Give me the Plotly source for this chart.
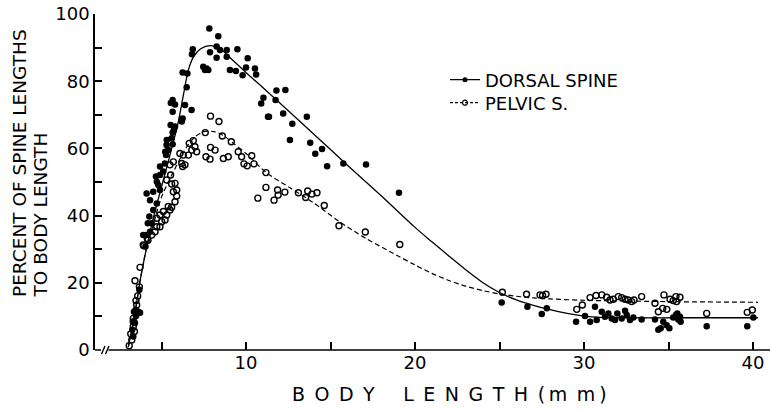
import plotly.graph_objects as go

# ---------------- data ----------------
DORSAL_X = [3.33, 3.27, 3.43, 3.49, 3.37, 3.63, 3.73, 3.47, 3.69, 3.55, 3.30,
            4.05, 4.08, 4.32, 4.42, 4.28, 4.51, 4.72, 4.32, 4.12, 4.51, 4.91, 4.81, 4.72, 4.67,
            4.91, 5.10, 4.91, 5.20, 5.27, 5.22, 5.40, 5.30, 5.60, 5.66, 5.80, 6.20, 3.92, 4.19,
            7.83, 8.36, 6.85, 6.80, 8.26, 8.46, 8.86, 9.49, 7.87, 8.26, 8.86, 10.10, 7.47, 7.67,
            7.77, 7.57, 9.05, 9.40, 9.80, 10.00, 10.53, 10.60, 6.25, 6.53, 6.49, 5.66, 5.80, 5.55,
            6.39, 6.78, 5.66, 6.25, 6.18, 5.54, 5.74, 5.31, 5.66, 11.03, 10.90, 11.30,
            11.80, 12.33, 11.75, 11.36, 12.20, 12.74, 13.60, 12.60, 13.80, 14.50, 14.10, 14.80,
            15.76, 17.10, 19.05,
            25.13, 26.65, 27.50, 27.80, 29.53, 30.06, 30.36, 30.65, 30.75, 31.05, 31.24, 31.44,
            31.64, 31.83, 31.97, 32.23, 32.43, 32.53, 32.72, 32.92, 33.41, 34.20, 34.40, 34.54,
            34.69, 34.89, 35.05, 35.28, 35.44, 35.58, 35.52, 35.68, 35.72, 37.26, 39.66, 40.02]
DORSAL_Y = [4.0, 6.0, 8.0, 10.1, 11.4, 11.4, 11.1, 11.9, 17.9, 10.8, 8.5,
            30.8, 34.2, 35.2, 37.7, 39.7, 41.7, 43.6, 44.6, 46.6, 47.1, 47.6, 49.1, 50.1, 51.6,
            52.1, 53.1, 54.6, 55.5, 58.0, 59.0, 59.5, 61.0, 63.0, 64.7, 66.5, 68.0, 34.2, 37.7,
            95.7, 93.4, 89.5, 88.0, 90.3, 89.3, 89.3, 89.5, 88.6, 87.0, 87.3, 86.8, 84.3, 83.8,
            83.3, 83.3, 83.3, 83.0, 81.8, 84.1, 83.8, 82.0, 82.6, 82.3, 78.2, 74.4, 73.1, 73.5,
            72.9, 71.4, 70.9, 68.9, 68.2, 67.0, 65.5, 62.5, 61.2, 75.1, 73.4, 69.4,
            77.2, 77.4, 74.4, 69.4, 70.4, 67.3, 69.4, 62.5, 61.7, 59.8, 58.4, 54.7,
            55.5, 55.2, 46.8,
            14.1, 12.9, 10.7, 12.4, 8.4, 10.1, 8.4, 12.9, 8.9, 11.4, 9.9, 10.9,
            9.4, 8.9, 10.9, 9.4, 11.7, 10.4, 8.9, 9.7, 9.1, 9.1, 6.0, 6.5,
            8.4, 7.4, 6.5, 9.7, 10.4, 9.1, 10.9, 9.9, 8.4, 7.1, 7.1, 9.7]

PELVIC_X = [3.09, 3.24, 3.18, 3.33, 3.40, 3.33, 3.53, 3.49, 3.59, 3.69, 3.43, 3.73, 3.95, 4.20,
            3.92, 4.16, 4.42, 4.62, 4.72, 4.91, 5.01, 4.72, 5.21, 4.91, 5.31, 5.11, 5.50, 5.40,
            5.60, 5.80, 5.90, 5.70, 5.90, 5.60, 5.80, 5.31, 5.54, 6.25, 6.39, 6.20, 5.50, 5.70,
            6.09, 6.29,
            7.90, 8.40, 7.59, 8.60, 9.13, 6.88, 6.64, 6.98, 6.79, 7.08, 6.59, 7.63, 7.87, 8.17,
            7.90, 8.66, 8.95, 9.54, 9.74, 10.34, 9.88, 10.07, 10.47, 11.18,
            11.18, 10.70, 11.66, 11.87, 11.90, 12.30, 13.10, 13.53, 13.65, 13.90, 14.20, 14.63,
            15.50, 17.06, 19.10,
            25.17, 26.60, 27.40, 27.75, 27.55, 29.57, 29.90, 30.36, 30.71, 31.05, 31.34, 31.54,
            31.73, 32.03, 32.23, 32.43, 32.62, 32.82, 32.96, 33.41, 34.20, 34.73, 35.09, 35.28,
            35.44, 35.68, 35.48, 34.40, 34.66, 34.90, 37.26, 39.66, 39.96]
PELVIC_Y = [1.3, 3.0, 4.8, 7.0, 5.5, 9.4, 13.4, 14.7, 16.1, 18.8, 20.6, 24.6, 31.0, 32.7,
            31.3, 33.2, 34.2, 35.2, 36.7, 36.7, 38.2, 39.2, 38.7, 40.2, 40.2, 41.2, 41.7, 42.7,
            42.5, 44.1, 45.8, 47.1, 47.6, 49.4, 49.6, 50.6, 52.1, 54.6, 55.1, 55.5, 55.1, 56.0,
            58.5, 58.0,
            69.6, 68.0, 64.7, 63.7, 62.0, 62.3, 61.5, 60.5, 59.5, 59.0, 58.0, 57.5, 56.8, 59.5,
            60.3, 57.0, 57.5, 59.0, 57.5, 57.8, 55.4, 54.8, 55.4, 52.8,
            48.4, 45.2, 44.6, 47.6, 46.1, 47.0, 46.8, 45.4, 47.3, 46.4, 46.8, 43.0,
            37.0, 35.1, 31.4,
            17.2, 16.6, 16.4, 16.6, 16.2, 12.1, 13.4, 15.6, 16.2, 16.4, 15.7, 14.9,
            15.1, 15.9, 15.6, 15.1, 14.9, 14.4, 14.9, 15.9, 13.9, 16.4, 15.1, 14.7,
            15.9, 15.7, 14.4, 11.4, 12.4, 12.1, 10.9, 11.2, 11.9]

DORSAL_CURVE_X = [3.04, 3.4, 3.73, 4.1, 4.5, 5.0, 5.5, 6.0, 6.3, 6.6, 6.9, 7.3, 7.9, 8.5, 9.0,
                  10.0, 10.8, 12.0, 14.0, 16.0, 18.0, 20.0, 21.0, 22.0, 23.0, 24.0, 25.0, 26.0,
                  27.0, 28.0, 29.0, 30.0, 31.0, 32.0, 36.0, 40.3]
DORSAL_CURVE_Y = [1.0, 10.0, 20.5, 30.0, 39.0, 48.5, 58.0, 68.0, 76.0, 83.5, 87.3, 89.6, 90.6,
                  89.5, 87.3, 82.6, 79.0, 73.5, 64.3, 55.0, 45.9, 36.5, 32.2, 28.0, 23.9, 20.1,
                  17.1, 14.9, 13.3, 12.0, 10.9, 10.1, 9.7, 9.6, 9.6, 9.6]
PELVIC_CURVE_X = [3.04, 3.4, 3.73, 4.1, 4.5, 5.0, 5.6, 6.5, 7.0, 7.5, 8.1, 8.6, 9.25, 10.0,
                  11.2, 12.6, 14.0, 15.5, 17.1, 19.0, 20.0, 21.0, 22.0, 23.0, 24.0, 25.0, 26.0,
                  27.0, 28.0, 30.0, 35.0, 40.3]
PELVIC_CURVE_Y = [1.0, 10.0, 20.5, 30.0, 37.0, 45.5, 52.0, 60.5, 63.5, 65.0, 65.0, 64.0, 61.5,
                  58.5, 52.8, 48.3, 43.8, 38.3, 33.2, 28.0, 25.3, 22.8, 20.7, 19.0, 17.7, 16.7,
                  16.0, 15.5, 15.2, 14.8, 14.4, 14.2]

X_TICKS = [5, 10, 15, 20, 25, 30, 35, 40]
X_TICK_TEXT = ["", "10", "", "20", "", "30", "", "40"]
Y_TICKS = [0, 10, 20, 30, 40, 50, 60, 70, 80, 90, 100]
Y_TICK_TEXT = ["0", "", "20", "", "40", "", "60", "", "80", "", "100"]

SERIES_NAMES = ["DORSAL SPINE", "PELVIC S."]
X_TITLE = "B\u2002O\u2002D\u2002Y\u2003\u2002L\u2002E\u2002N\u2002G\u2002T\u2002H\u2002(\u2009m\u2002m\u2009)"
Y_TITLE_LINES = ["PERCENT OF SPINE LENGTHS", "TO BODY LENGTH"]

# ---------------- layout geometry ----------------
W, H = 770, 410
ML, MR, MT, MB = 95, 0, 14, 60
PX_PER_MM = 16.9
X0 = 10 - (246 - ML) / PX_PER_MM
X1 = X0 + (W - ML - MR) / PX_PER_MM
FONT = "DejaVu Sans"
BLACK = "#000000"

def px_x(px):
    return (px - ML) / (W - ML - MR)

def px_y(py):
    return (H - MB - py) / (H - MT - MB)

fig = go.Figure()

fig.add_trace(go.Scatter(x=DORSAL_CURVE_X, y=DORSAL_CURVE_Y, mode="lines",
                         line=dict(color=BLACK, width=1.3, shape="spline", smoothing=0.8),
                         showlegend=False, hoverinfo="skip"))
fig.add_trace(go.Scatter(x=PELVIC_CURVE_X, y=PELVIC_CURVE_Y, mode="lines",
                         line=dict(color=BLACK, width=1.2, dash="5px,3px", shape="spline", smoothing=0.8),
                         showlegend=False, hoverinfo="skip"))
fig.add_trace(go.Scatter(x=DORSAL_X, y=DORSAL_Y, mode="markers", cliponaxis=False,
                         marker=dict(symbol="circle", size=6.5, color=BLACK),
                         showlegend=False))
fig.add_trace(go.Scatter(x=PELVIC_X, y=PELVIC_Y, mode="markers", cliponaxis=False,
                         marker=dict(symbol="circle-open", size=6, color=BLACK, line=dict(width=1.4)),
                         showlegend=False))

# legend entries (one legend each, to control row spacing)
fig.add_trace(go.Scatter(x=[None], y=[None], mode="lines+markers", name=SERIES_NAMES[0],
                         line=dict(color=BLACK, width=1.3), legend="legend",
                         marker=dict(symbol="circle", size=5, color=BLACK)))
fig.add_trace(go.Scatter(x=[None], y=[None], mode="lines+markers", name=SERIES_NAMES[1],
                         line=dict(color=BLACK, width=1.2, dash="3px,2px"), legend="legend2",
                         marker=dict(symbol="circle-open", size=5, color=BLACK, line=dict(width=1.2))))

shapes = []
# x-axis stub, break marks and main line
shapes.append(dict(type="line", xref="paper", yref="paper", x0=px_x(95), x1=px_x(101),
                   y0=0, y1=0, line=dict(color=BLACK, width=1.5)))
for bx in (101.5, 105.5):
    shapes.append(dict(type="line", xref="paper", yref="paper", x0=px_x(bx), x1=px_x(bx + 3.5),
                       y0=px_y(354), y1=px_y(346), line=dict(color=BLACK, width=1.4)))
shapes.append(dict(type="line", xref="paper", yref="paper", x0=px_x(108.5), x1=1,
                   y0=0, y1=0, line=dict(color=BLACK, width=1.5)))

annotations = [
    dict(text=X_TITLE, xref="paper", yref="paper", x=px_x(449), y=px_y(394),
         xanchor="center", yanchor="middle", showarrow=False,
         font=dict(family=FONT, size=19, color=BLACK)),
]
for line_text, cx in zip(Y_TITLE_LINES, (19, 40)):
    annotations.append(dict(text=line_text, xref="paper", yref="paper", x=px_x(cx), y=px_y(299),
                            xanchor="center", yanchor="bottom", showarrow=False, textangle=-90,
                            font=dict(family=FONT, size=18.5, color=BLACK)))

legend_common = dict(xanchor="left", yanchor="middle", bgcolor="rgba(0,0,0,0)", borderwidth=0,
                     font=dict(family=FONT, size=18, color=BLACK), itemwidth=30)
fig.update_layout(
    width=W, height=H,
    margin=dict(l=ML, r=MR, t=MT, b=MB),
    paper_bgcolor="white", plot_bgcolor="white",
    font=dict(family=FONT, color=BLACK),
    showlegend=True,
    legend=dict(x=px_x(445), y=px_y(80), **legend_common),
    legend2=dict(x=px_x(445), y=px_y(103), **legend_common),
    shapes=shapes,
    annotations=annotations,
)

fig.update_xaxes(range=[X0, X1], showline=False, zeroline=False, showgrid=False,
                 tickmode="array", tickvals=X_TICKS, ticktext=X_TICK_TEXT,
                 ticks="inside", ticklen=8, tickwidth=1.6, tickcolor=BLACK,
                 tickfont=dict(family=FONT, size=18, color=BLACK))
fig.update_yaxes(range=[0, 100], showline=True, linecolor=BLACK, linewidth=1.5,
                 zeroline=False, showgrid=False,
                 tickmode="array", tickvals=Y_TICKS, ticktext=Y_TICK_TEXT,
                 ticks="inside", ticklen=7, tickwidth=1.6, tickcolor=BLACK,
                 tickfont=dict(family=FONT, size=18, color=BLACK))

fig.write_html("out.html")
